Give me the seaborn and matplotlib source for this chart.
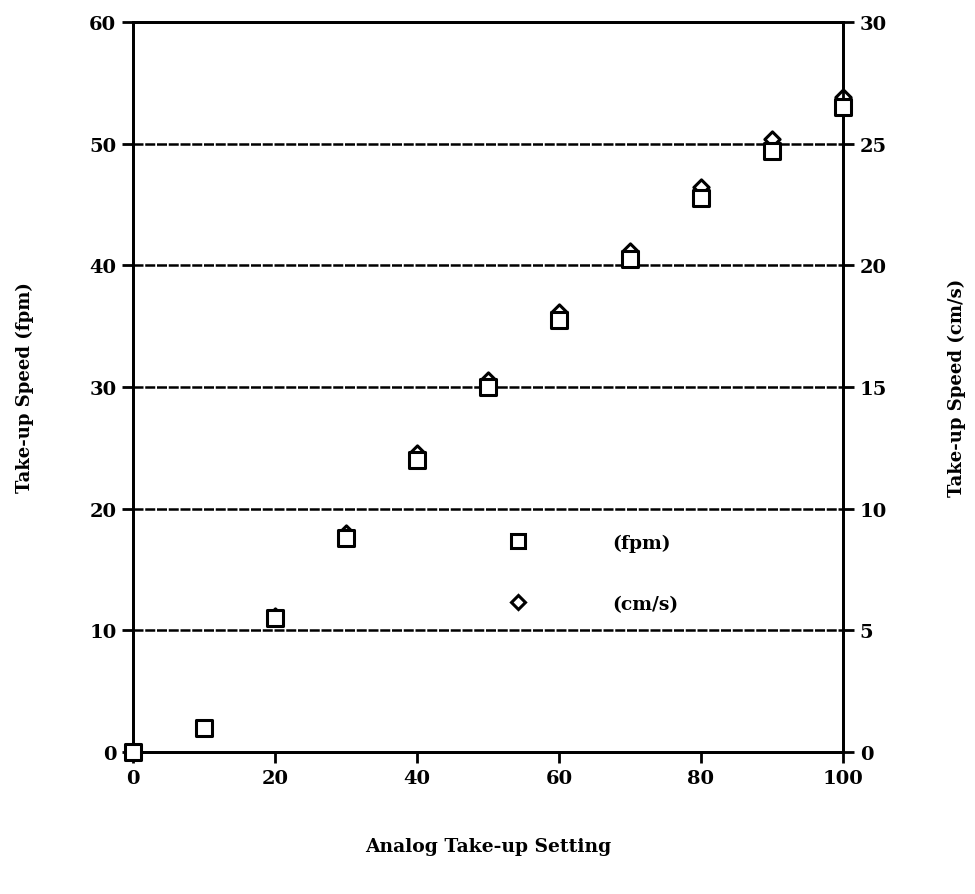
"""Take-up speed vs analog setting, dual axis (fpm / cm/s)."""

import matplotlib
matplotlib.use("Agg")
import matplotlib.pyplot as plt
import pandas as pd
import seaborn as sns
from matplotlib.lines import Line2D

setting = [0, 10, 20, 30, 40, 50, 60, 70, 80, 90, 100]
speed_fpm = [0.0, 2.0, 11.0, 17.6, 24.0, 30.0, 35.5, 40.5, 45.5, 49.4, 53.0]
speed_cms = [0.0, 1.0, 5.6, 9.0, 12.3, 15.3, 18.1, 20.6, 23.2, 25.2, 26.9]

left_ticks = [0, 10, 20, 30, 40, 50, 60]
right_ticks = [0, 5, 10, 15, 20, 25, 30]
x_ticks = [0, 20, 40, 60, 80, 100]

df = pd.DataFrame({"setting": setting, "fpm": speed_fpm, "cms": speed_cms})

sns.set_style("ticks")
plt.rcParams["font.family"] = ["DejaVu Serif"]
plt.rcParams["font.weight"] = "bold"
plt.rcParams["text.color"] = "black"
plt.rcParams["axes.labelcolor"] = "black"

fig = plt.figure(figsize=(9.75, 8.95), dpi=100)
ax = fig.add_axes([0.1364, 0.1587, 0.7282, 0.8156])
ax2 = ax.twinx()

# diamonds (cm/s) on the right axis, drawn underneath the squares
sns.scatterplot(data=df, x="setting", y="cms", ax=ax2, marker="D", s=60,
                color="white", edgecolor="black", linewidth=2.2, legend=False,
                clip_on=False, zorder=3)
sns.scatterplot(data=df, x="setting", y="fpm", ax=ax, marker="s", s=120,
                color="white", edgecolor="black", linewidth=2.2, legend=False,
                clip_on=False, zorder=4)

ax.set_zorder(ax2.get_zorder() + 1)
ax.patch.set_visible(False)

ax.set_xlim(0, 100)
ax.set_ylim(0, 60)
ax2.set_ylim(0, 30)
ax.set_xticks(x_ticks)
ax.set_yticks(left_ticks)
ax2.set_yticks(right_ticks)

for t in left_ticks[1:-1]:
    ax.axhline(t, color="black", lw=1.8, ls=(0, (4, 0.7)), zorder=1)

for a in (ax, ax2):
    for s in a.spines.values():
        s.set_linewidth(2)
        s.set_color("black")
    a.tick_params(direction="out", length=8, width=2, labelsize=14,
                  colors="black", pad=4)

ax.set_xlabel("Analog Take-up Setting", fontsize=13.5, fontweight="bold", labelpad=36)
ax.set_ylabel("Take-up Speed (fpm)", fontsize=13, fontweight="bold", labelpad=40)
ax2.set_ylabel("Take-up Speed (cm/s)", fontsize=13, fontweight="bold", labelpad=44)

handles = [
    Line2D([], [], ls="none", marker="s", ms=10, mfc="white", mec="black", mew=2.2),
    Line2D([], [], ls="none", marker="D", ms=7, mfc="white", mec="black", mew=2.2),
]
ax.legend(handles, ["(fpm)", "(cm/s)"], loc="upper left",
          bbox_to_anchor=(0.503, 0.312), frameon=False, fontsize=13.5,
          handletextpad=4.0, labelspacing=2.3, borderpad=0)

fig.savefig("out.png", dpi=100)
